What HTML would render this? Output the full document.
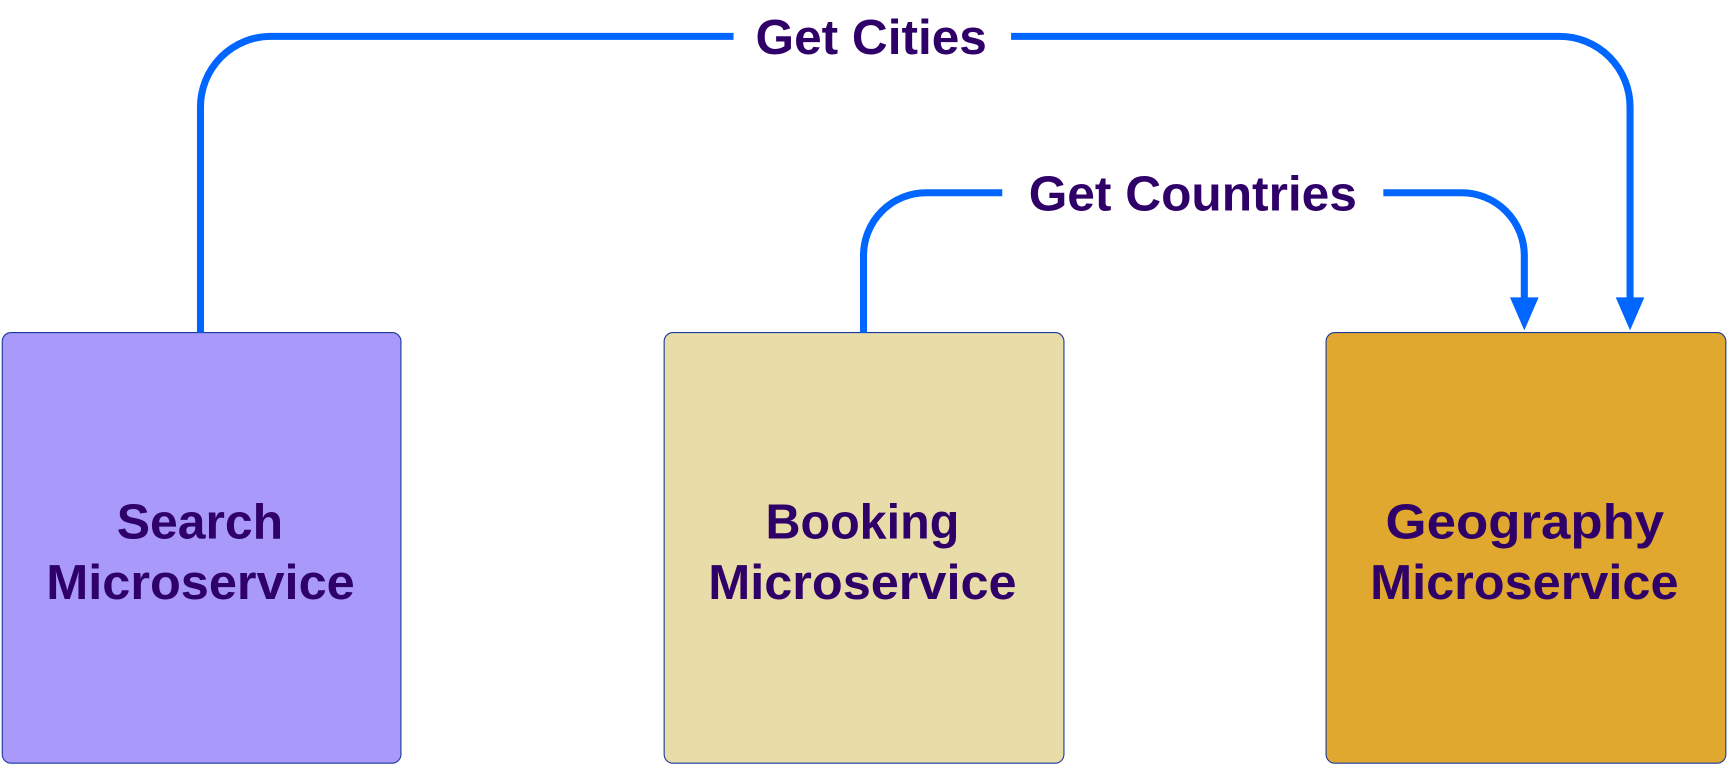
<!DOCTYPE html>
<html><head><meta charset="utf-8"><style>
html,body{margin:0;padding:0;background:#fff;width:1727px;height:765px;overflow:hidden}
svg{display:block}
text{font-family:"Liberation Sans",sans-serif;font-weight:bold;fill:#2e0068;font-size:45px}
</style></head><body>
<svg width="1727" height="765" viewBox="0 0 1568 694.6" xmlns="http://www.w3.org/2000/svg">
<g stroke="#1a3a9a" stroke-width="1">
<rect x="2" y="302" width="362" height="391" rx="8" fill="#a899fb"/>
<rect x="603" y="302" width="363" height="391" rx="8" fill="#e8dca8"/>
<rect x="1204" y="302" width="363" height="391" rx="8" fill="#e0a82f"/>
</g>
<g fill="none" stroke="#0066ff" stroke-width="6.4">
<path d="M182 302 V97 A64 64 0 0 1 246 33 H666"/>
<path d="M918 33 H1416 A64 64 0 0 1 1480 97 V272"/>
<path d="M784 302 V232 A57 57 0 0 1 841 175 H910"/>
<path d="M1256 175 H1327 A57 57 0 0 1 1384 232 V272"/>
</g>
<g fill="#0066ff">
<polygon points="1467,270 1493,270 1480,300"/>
<polygon points="1371,270 1397,270 1384,300"/>
</g>
<text x="686" y="49" textLength="210" lengthAdjust="spacingAndGlyphs">Get Cities</text>
<text x="934" y="191" textLength="298" lengthAdjust="spacingAndGlyphs">Get Countries</text>
<text x="106" y="489" textLength="151" lengthAdjust="spacingAndGlyphs">Search</text>
<text x="42" y="544" textLength="280" lengthAdjust="spacingAndGlyphs">Microservice</text>
<text x="695" y="489" textLength="176" lengthAdjust="spacingAndGlyphs">Booking</text>
<text x="643" y="544" textLength="280" lengthAdjust="spacingAndGlyphs">Microservice</text>
<text x="1258" y="489" textLength="253" lengthAdjust="spacingAndGlyphs">Geography</text>
<text x="1244" y="544" textLength="280" lengthAdjust="spacingAndGlyphs">Microservice</text>
</svg>
</body></html>
